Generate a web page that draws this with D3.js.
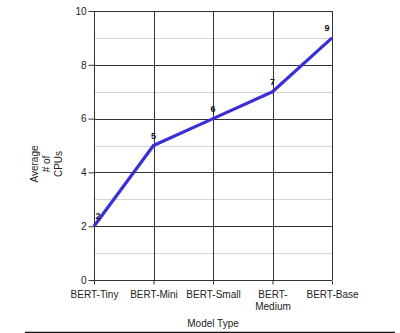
<!DOCTYPE html>
<html><head><meta charset="utf-8">
<script src="https://cdn.jsdelivr.net/npm/d3@7"></script>
<style>body{margin:0;background:#fff}svg{display:block}text{font-family:"Liberation Sans",Arial,sans-serif}</style>
</head><body><svg id="c" width="400" height="333"></svg>
<script>
const categories = ["BERT-Tiny", "BERT-Mini", "BERT-Small", "BERT-Medium", "BERT-Base"];
const categoryLines = [["BERT-Tiny"], ["BERT-Mini"], ["BERT-Small"], ["BERT-", "Medium"], ["BERT-Base"]];
const cpus = [2, 5, 6, 7, 9];
const yTicks = [0, 2, 4, 6, 8, 10];
const yMinor = [1, 3, 5, 7, 9];

const svg = d3.select("#c");
const L = 94, R = 332, T = 11, B = 280;
const x = d3.scalePoint().domain(categories).range([L, R]).padding(0);
const y = d3.scaleLinear().domain([0, 10]).range([B, T]);

// minor grid
svg.append("g").selectAll("line").data(yMinor).join("line")
  .attr("x1", L).attr("x2", R).attr("y1", d => Math.round(y(d)) + 0.5).attr("y2", d => Math.round(y(d)) + 0.5)
  .attr("stroke", "#d4d4d4").attr("stroke-width", 1);
// major horizontal grid
svg.append("g").selectAll("line").data(yTicks.filter(d => d > 0)).join("line")
  .attr("x1", L).attr("x2", R).attr("y1", d => Math.round(y(d)) + 0.5).attr("y2", d => Math.round(y(d)) + 0.5)
  .attr("stroke", "#333").attr("stroke-width", 1);
// vertical grid
svg.append("g").selectAll("line").data(categories.slice(1)).join("line")
  .attr("x1", d => Math.round(x(d)) + 0.5).attr("x2", d => Math.round(x(d)) + 0.5).attr("y1", T).attr("y2", B)
  .attr("stroke", "#333").attr("stroke-width", 1);

// y axis
const ya = svg.append("g").attr("transform", `translate(${L + 0.5},0)`)
  .call(d3.axisLeft(y).tickValues(yTicks).tickSize(6).tickPadding(2).tickFormat(d3.format("d")));
ya.selectAll("text").attr("font-size", 10).attr("fill", "#222").attr("font-family", '"Liberation Sans",Arial,sans-serif');
ya.selectAll("line,path").attr("stroke", "#333");
ya.select("path").attr("d", `M0,${T}V${B}`);

// x axis
const xa = svg.append("g").attr("transform", `translate(0,${B + 0.5})`)
  .call(d3.axisBottom(x).tickSize(4).tickFormat(""));
xa.selectAll("line,path").attr("stroke", "#333");
xa.select("path").attr("d", `M${L},0H${R}`);
xa.selectAll(".tick").each(function(d, i) {
  const t = d3.select(this).append("text").attr("fill", "#222").attr("font-size", 10)
    .attr("text-anchor", "middle").attr("y", 17);
  categoryLines[i].forEach((s, j) => t.append("tspan").attr("x", 0).attr("dy", j ? 12 : 0).text(s));
});

// line
svg.append("path").datum(cpus)
  .attr("fill", "none").attr("stroke", "#3a2fd6").attr("stroke-width", 3.2).attr("stroke-linejoin", "round")
  .attr("d", d3.line().x((d, i) => x(categories[i])).y(d => y(d)));

// data labels
svg.append("g").selectAll("text").data(cpus).join("text")
  .attr("x", (d, i) => x(categories[i]) + (i === 0 ? 4 : i === cpus.length - 1 ? -5 : 0))
  .attr("y", d => y(d) - 7)
  .attr("text-anchor", "middle").attr("font-size", 9).attr("font-weight", "bold").attr("fill", "#111")
  .text(d => d);

// axis titles
svg.append("text").attr("x", 213).attr("y", 327).attr("text-anchor", "middle")
  .attr("font-size", 10).attr("fill", "#222").text("Model Type");
const yl = svg.append("text").attr("transform", "translate(38,164) rotate(-90)")
  .attr("text-anchor", "middle").attr("font-size", 10).attr("fill", "#222");
["Average", "# of", "CPUs"].forEach((s, j) => yl.append("tspan").attr("x", 0).attr("dy", j ? 12 : 0).text(s));

// bottom rule
svg.append("line").attr("x1", 25).attr("x2", 395).attr("y1", 332.5).attr("y2", 332.5)
  .attr("stroke", "#111").attr("stroke-width", 1.5);
</script></body></html>
